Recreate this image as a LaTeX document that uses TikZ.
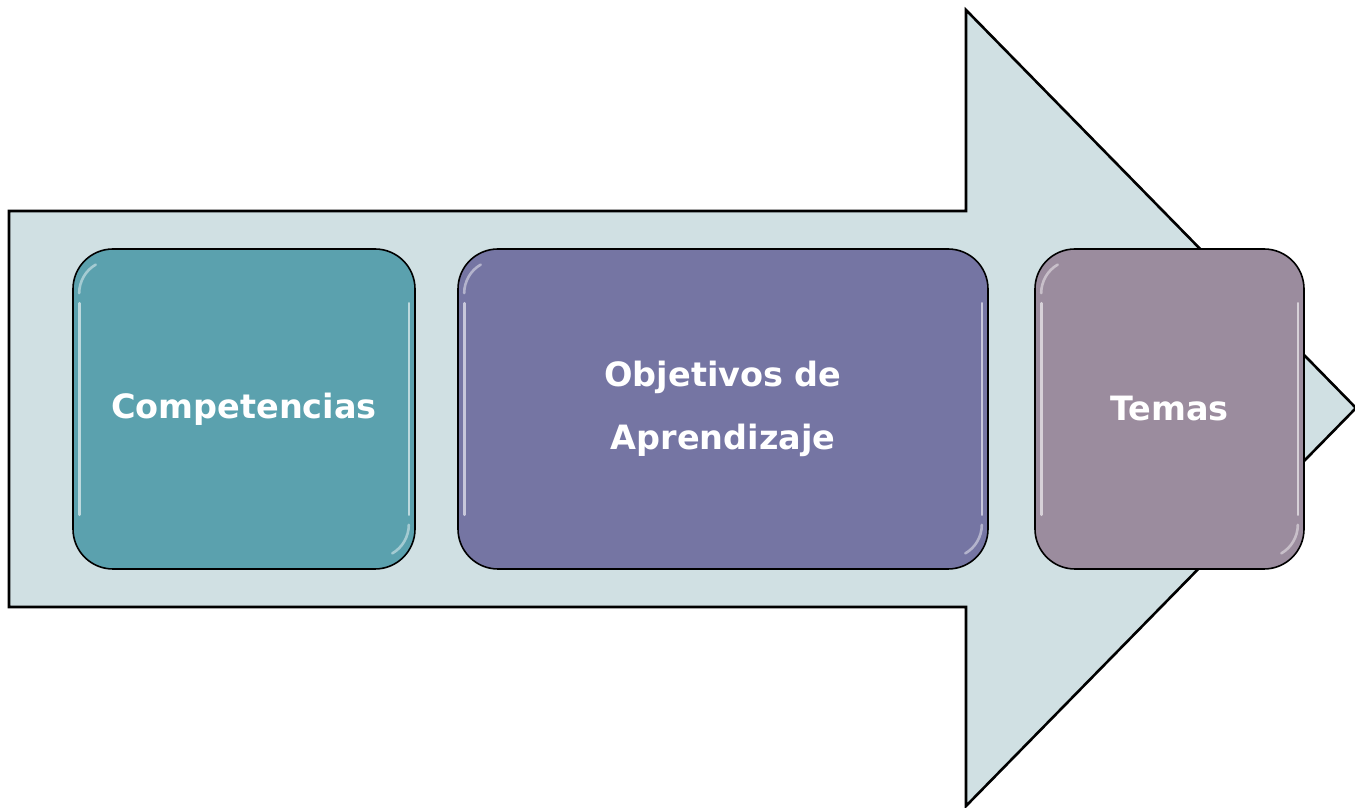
\documentclass[tikz,border=0pt]{standalone}
\usepackage{fontspec}
\newfontfamily\boxfont{DejaVu Sans}[BoldFont={DejaVu Sans Bold}]
\definecolor{arrowfill}{HTML}{D0E0E3}
\definecolor{cA}{HTML}{5BA1AE}
\definecolor{cB}{HTML}{7575A3}
\definecolor{cC}{HTML}{9B8C9E}
\tikzset{
  x=1pt,y=1pt,
  stagebox/.style={draw=black,line width=1.6pt,rounded corners=40pt,inner sep=0pt,
    text=white,align=center,font=\boxfont\bfseries\fontsize{33.5}{63}\selectfont},
  gloss/.style={draw=white,line width=2.6pt,opacity=0.6,line cap=round},
}
\begin{document}
\begin{tikzpicture}
\useasboundingbox (0,0) rectangle (1355,808);
% big arrow
\draw[fill=arrowfill,line width=2.6pt,line join=miter]
  (9,597) -- (966,597) -- (966,798) -- (1356,400) -- (966,2) -- (966,201) -- (9,201) -- cycle;
% boxes
\node[stagebox,fill=cA,minimum width=342pt,minimum height=320pt] (b1) at (244,399) {Competencias};
\node[stagebox,fill=cB,minimum width=530pt,minimum height=320pt] (b2) at (723,399) {Objetivos de\\Aprendizaje};
\node[stagebox,fill=cC,minimum width=269pt,minimum height=320pt] (b3) at (1169.5,399) {Temas};
% gloss highlights
\foreach \b in {b1,b2,b3}{
  \draw[gloss] ([xshift=7pt,yshift=-55pt]\b.north west) -- ([xshift=7pt,yshift=55pt]\b.south west);
  \draw[gloss] ([xshift=-7pt,yshift=-55pt]\b.north east) -- ([xshift=-7pt,yshift=55pt]\b.south east);
  \draw[gloss,opacity=0.45] ([xshift=7pt,yshift=-45pt]\b.north west) arc[start angle=180,end angle=120,radius=33pt];
  \draw[gloss,opacity=0.45] ([xshift=-7pt,yshift=45pt]\b.south east) arc[start angle=0,end angle=-60,radius=33pt];
}
\end{tikzpicture}
\end{document}
